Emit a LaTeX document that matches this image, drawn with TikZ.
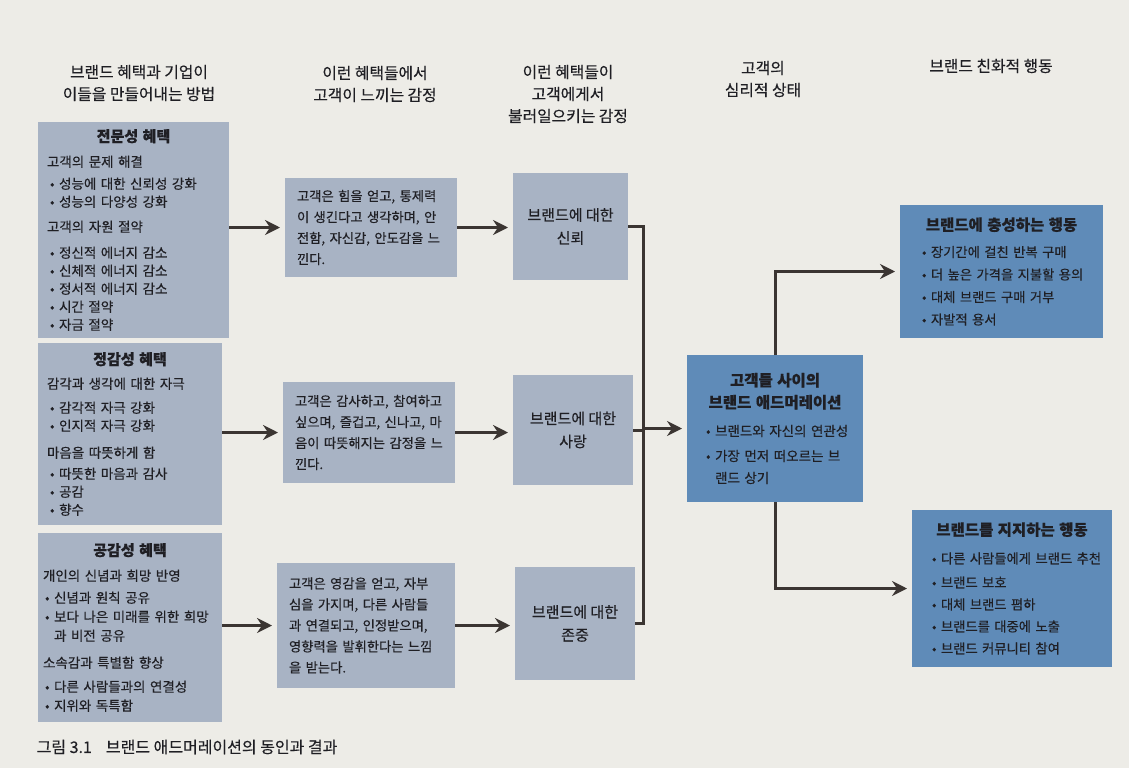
\documentclass[tikz,border=0pt]{standalone}
\usepackage{fontspec}
\setmainfont{Noto Sans CJK KR}[FakeBold=0.35]
\usetikzlibrary{arrows.meta}

\definecolor{paper}{HTML}{EDECE7}
\definecolor{greybox}{HTML}{A8B3C4}
\definecolor{bluebox}{HTML}{5F8BB8}
\definecolor{ink}{HTML}{1F1F24}
\definecolor{wire}{HTML}{3B3532}

\newlength\bulskip
\newcommand\bul{\hspace*{\bulskip}\textbullet\ }
\newcommand\hang{\hspace*{\bulskip}\phantom{\textbullet}\ }
\newcommand\boxtitle[1]{\makebox[\hsize]{\bfseries\fontsize{15}{18}\selectfont #1}}
\newcommand\bigtitle[1]{\makebox[\hsize]{\bfseries\fontsize{15.5}{18}\selectfont #1}}
\newcommand\justline[1]{\makebox[\hsize][s]{#1}}

\tikzset{every path/.style={semithick}}
\tikzset{
  cell/.style={inner ysep=0pt, outer sep=0pt, text=ink, anchor=north west,
    align=left, font=\fontsize{13.5}{18}\selectfont},
  greycell/.style={cell, fill=greybox},
  bluecell/.style={cell, fill=bluebox},
  emocell/.style={greycell, align=center, font=\fontsize{15}{23}\selectfont},
  head/.style={align=center, text=ink, font=\fontsize{15.8}{22}\selectfont},
  wire/.style={draw=wire, line width=3pt},
  flow/.style={wire, -{Stealth[length=15pt,width=15pt,inset=5pt]}, shorten >=5pt},
}

\begin{document}
\begin{tikzpicture}[x=1pt,y=-1pt]
  \fill[paper] (0,0) rectangle (1129,768);
  \useasboundingbox (0,0) rectangle (1129,768);

  % headings
  \node[head] (h1) at (139,83) {브랜드 혜택과 기업이\\이들을 만들어내는 방법};
  \node[head] (h2) at (375,84) {이런 혜택들에서\\고객이 느끼는 감정};
  \node[head] (h3) at (568,94) {이런 혜택들이\\고객에게서\\불러일으키는 감정};
  \node[head] (h4) at (763,79) {고객의\\심리적 상태};
  \node[head] (h5) at (991,66) {브랜드 친화적 행동};

  % benefits
  \node[greycell, inner xsep=9pt, minimum width=191pt, minimum height=216pt, text width=173pt,
    font={\fontsize{13.5}{18}\selectfont\setlength\bulskip{3pt}}] (prof) at (38,122) {%
    \boxtitle{전문성 혜택}\\[7pt]
    고객의 문제 해결\\[4pt]
    \bul 성능에 대한 신뢰성 강화\\
    \bul 성능의 다양성 강화\\[7pt]
    고객의 자원 절약\\[8pt]
    \bul 정신적 에너지 감소\\
    \bul 신체적 에너지 감소\\
    \bul 정서적 에너지 감소\\
    \bul 시간 절약\\
    \bul 자금 절약};
  \node[greycell, inner xsep=9pt, minimum width=184pt, minimum height=182pt, text width=166pt,
    font={\fontsize{13.5}{18}\selectfont\setlength\bulskip{3pt}}] (emo) at (38,343) {%
    \boxtitle{정감성 혜택}\\[6pt]
    감각과 생각에 대한 자극\\[6pt]
    \bul 감각적 자극 강화\\
    \bul 인지적 자극 강화\\[9pt]
    마음을 따뜻하게 함\\[3pt]
    \bul 따뜻한 마음과 감사\\
    \bul 공감\\
    \bul 향수};
  \node[greycell, inner xsep=5pt, minimum width=184pt, minimum height=189pt, text width=174pt,
    font={\fontsize{13.5}{18}\selectfont\setlength\bulskip{2pt}}] (emp) at (38,533) {%
    \boxtitle{공감성 혜택}\\[7pt]
    개인의 신념과 희망 반영\\[4pt]
    \bul 신념과 원칙 공유\\[1pt]
    \bul 보다 나은 미래를 위한 희망\\[1pt]
    \hang 과 비전 공유\\[9pt]
    소속감과 특별함 향상\\[6pt]
    \bul 다른 사람들과의 연결성\\[1pt]
    \bul 지위와 독특함};

  % feelings
  \node[greycell, inner xsep=12pt, minimum width=172pt, minimum height=99pt, text width=148pt,
    font=\fontsize{13.3}{21}\selectfont] (feelA) at (285,178) {%
    \justline{고객은 힘을 얻고, 통제력}\\
    \justline{이 생긴다고 생각하며, 안}\\
    \justline{전함, 자신감, 안도감을 느}\\
    낀다.};
  \node[greycell, inner xsep=12pt, minimum width=172pt, minimum height=101pt, text width=148pt,
    font=\fontsize{13.3}{21}\selectfont] (feelB) at (283,382) {%
    \justline{고객은 감사하고, 참여하고}\\
    \justline{싶으며, 즐겁고, 신나고, 마}\\
    \justline{음이 따뜻해지는 감정을 느}\\
    낀다.};
  \node[greycell, inner xsep=12pt, minimum width=178pt, minimum height=125pt, text width=154pt,
    font=\fontsize{13.3}{21}\selectfont] (feelC) at (277,563) {%
    \justline{고객은 영감을 얻고, 자부}\\
    \justline{심을 가지며, 다른 사람들}\\
    \justline{과 연결되고, 인정받으며,}\\
    \justline{영향력을 발휘한다는 느낌}\\
    을 받는다.};

  % evoked emotions
  \node[emocell, minimum width=115pt, minimum height=107pt] (trust) at (513,173) {브랜드에 대한\\신뢰};
  \node[emocell, minimum width=120pt, minimum height=110pt] (love) at (513,375) {브랜드에 대한\\사랑};
  \node[emocell, minimum width=120pt, minimum height=113pt] (respect) at (515,567) {브랜드에 대한\\존중};

  % admiration and behaviours
  \node[bluecell, inner xsep=6pt, minimum width=176pt, minimum height=147pt, text width=164pt,
    font={\fontsize{13.5}{22}\selectfont\setlength\bulskip{13pt}}] (adm) at (687,355) {%
    \bigtitle{고객들 사이의}\\[0pt]
    \bigtitle{브랜드 애드머레이션}\\[6pt]
    \bul 브랜드와 자신의 연관성\\[3pt]
    \bul 가장 먼저 떠오르는 브\\[0pt]
    \hang 랜드 상기};
  \node[bluecell, inner xsep=8pt, minimum width=203pt, minimum height=133pt, text width=187pt,
    font={\fontsize{13.3}{22.5}\selectfont\setlength\bulskip{14pt}}] (loyal) at (900,205) {%
    \bigtitle{브랜드에 충성하는 행동}\\[4pt]
    \bul 장기간에 걸친 반복 구매\\
    \bul 더 높은 가격을 지불할 용의\\
    \bul 대체 브랜드 구매 거부\\
    \bul 자발적 용서};
  \node[bluecell, inner xsep=8pt, minimum width=200pt, minimum height=157pt, text width=184pt,
    font={\fontsize{13.3}{22}\selectfont\setlength\bulskip{12pt}}] (support) at (912,510) {%
    \bigtitle{브랜드를 지지하는 행동}\\[6pt]
    \bul 다른 사람들에게 브랜드 추천\\[2pt]
    \bul 브랜드 보호\\
    \bul 대체 브랜드 폄하\\
    \bul 브랜드를 대중에 노출\\
    \bul 브랜드 커뮤니티 참여};

  % connectors
  \draw[flow] (feelA.west -| prof.east) -- (feelA.west);
  \draw[flow] (feelB.west -| emo.east) -- (feelB.west);
  \draw[flow] (feelC.west -| emp.east) -- (feelC.west);
  \draw[flow] (feelA.east) -- (trust.west |- feelA.east);
  \draw[flow] (feelB.east) -- (love.west |- feelB.east);
  \draw[flow] (feelC.east) -- (respect.west |- feelC.east);

  \coordinate (merge) at (643,430);
  \draw[wire] (trust.east) -| (merge) |- (respect.east);
  \draw[wire] (love.east) -- (merge |- love.east);
  \draw[flow] (merge |- adm.west) -- (adm.west);
  \draw[flow] (adm.north) |- (loyal.west);
  \draw[flow] (adm.south) |- (support.west);

  \node[anchor=west, text=ink, font=\fontsize{16}{18}\selectfont] (caption) at (33,747)
    {그림 3.1\hspace{14pt}브랜드 애드머레이션의 동인과 결과};
\end{tikzpicture}
\end{document}
